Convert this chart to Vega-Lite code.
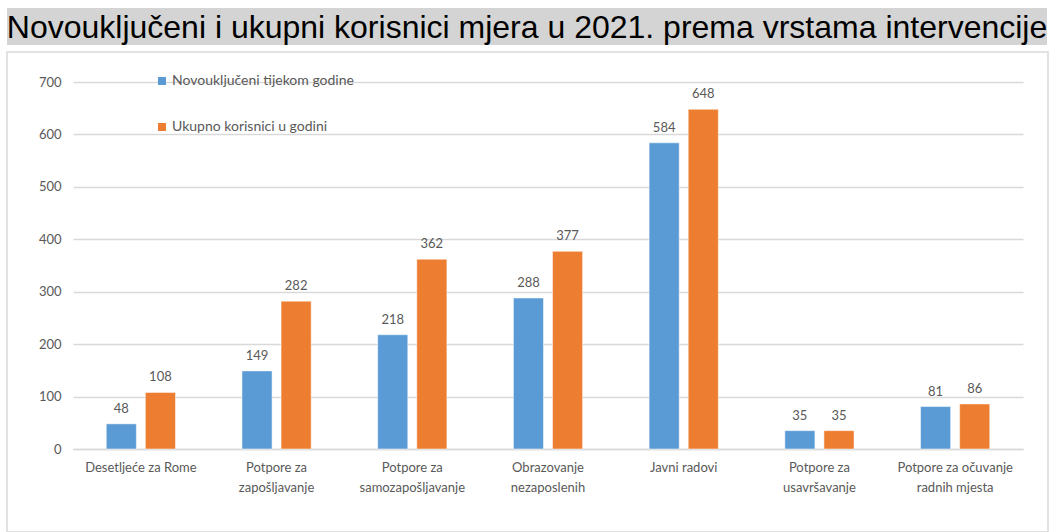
{
  "$schema": "https://vega.github.io/schema/vega-lite/v6.json",
  "background": "white",
  "padding": {"left": 6, "top": 8, "right": 0, "bottom": 0},
  "spacing": 6,
  "columns": 1,
  "align": "none",
  "config": {"view": {"stroke": null}},
  "resolve": {"legend": {"color": "independent"}},
  "concat": [
    {
      "width": 1040,
      "height": 37,
      "view": {"fill": "#d4d4d4", "stroke": null},
      "data": {"values": [{"title": "Novouključeni i ukupni korisnici mjera u 2021. prema vrstama intervencije"}]},
      "mark": {"type": "text", "font": "Liberation Sans", "fontSize": 32, "color": "#000000", "baseline": "middle", "align": "center", "dy": 1},
      "encoding": {"text": {"field": "title", "type": "nominal"}}
    },
    {
      "width": 1041,
      "height": 480,
      "view": {"stroke": "#d9d9d9", "strokeWidth": 1.5, "fill": "white"},
      "data": {"values": [
        {"mjera": "Desetljeće za Rome", "serija": "Novouključeni tijekom godine", "broj": 48},
        {"mjera": "Desetljeće za Rome", "serija": "Ukupno korisnici u godini", "broj": 108},
        {"mjera": "Potpore za zapošljavanje", "serija": "Novouključeni tijekom godine", "broj": 149},
        {"mjera": "Potpore za zapošljavanje", "serija": "Ukupno korisnici u godini", "broj": 282},
        {"mjera": "Potpore za samozapošljavanje", "serija": "Novouključeni tijekom godine", "broj": 218},
        {"mjera": "Potpore za samozapošljavanje", "serija": "Ukupno korisnici u godini", "broj": 362},
        {"mjera": "Obrazovanje nezaposlenih", "serija": "Novouključeni tijekom godine", "broj": 288},
        {"mjera": "Obrazovanje nezaposlenih", "serija": "Ukupno korisnici u godini", "broj": 377},
        {"mjera": "Javni radovi", "serija": "Novouključeni tijekom godine", "broj": 584},
        {"mjera": "Javni radovi", "serija": "Ukupno korisnici u godini", "broj": 648},
        {"mjera": "Potpore za usavršavanje", "serija": "Novouključeni tijekom godine", "broj": 35},
        {"mjera": "Potpore za usavršavanje", "serija": "Ukupno korisnici u godini", "broj": 35},
        {"mjera": "Potpore za očuvanje radnih mjesta", "serija": "Novouključeni tijekom godine", "broj": 81},
        {"mjera": "Potpore za očuvanje radnih mjesta", "serija": "Ukupno korisnici u godini", "broj": 86}
      ]},
      "encoding": {
        "x": {
          "field": "mjera", "type": "nominal", "sort": null, "title": null,
          "scale": {"range": [66, 1016], "paddingInner": 0.49, "paddingOuter": 0.245},
          "axis": {
            "offset": -83,
            "labelAngle": 0, "ticks": false, "tickSize": 0, "labelPadding": 12,
            "labelFont": "Lato", "labelFontSize": 13, "labelColor": "#595959",
            "labelLineHeight": 20, "domainColor": "#d9d9d9", "domainWidth": 1.5,
            "labelExpr": "datum.label == 'Potpore za očuvanje radnih mjesta' ? ['Potpore za očuvanje', 'radnih mjesta'] : datum.label == 'Obrazovanje nezaposlenih' ? ['Obrazovanje', 'nezaposlenih'] : indexof(datum.label, 'Potpore za ') == 0 ? ['Potpore za', substring(datum.label, 11)] : datum.label"
          }
        },
        "xOffset": {"field": "serija", "type": "nominal", "sort": ["Novouključeni tijekom godine", "Ukupno korisnici u godini"], "scale": {"paddingInner": 0.23, "paddingOuter": 0}},
        "y": {
          "field": "broj", "type": "quantitative", "title": null,
          "scale": {"domain": [0, 700], "nice": false, "range": [397, 30]},
          "axis": {
            "offset": -66,
            "values": [0, 100, 200, 300, 400, 500, 600, 700],
            "domain": false, "ticks": false, "tickSize": 0, "labelPadding": 12,
            "labelFont": "Lato", "labelFontSize": 13, "labelColor": "#595959",
            "gridColor": "#d9d9d9", "gridWidth": 1.5
          }
        }
      },
      "layer": [
        {
          "mark": {"type": "bar", "stroke": "white", "strokeWidth": 0.5},
          "encoding": {
            "color": {
              "field": "serija", "type": "nominal", "title": null,
              "scale": {"domain": ["Novouključeni tijekom godine", "Ukupno korisnici u godini"], "range": ["#5b9bd5", "#ed7d31"]},
              "legend": {
                "orient": "none", "legendX": 148, "legendY": 22, "direction": "vertical",
                "symbolType": "square", "symbolSize": 64, "symbolStrokeWidth": 0,
                "labelFont": "Lato", "labelFontSize": 14, "labelColor": "#595959",
                "labelOffset": 3, "rowPadding": 32, "padding": 0, "labelLimit": 400
              }
            }
          }
        },
        {
          "mark": {"type": "text", "baseline": "middle", "dy": -15, "font": "Lato", "fontSize": 13, "color": "#595959"},
          "encoding": {"text": {"field": "broj", "type": "quantitative"}}
        }
      ]
    }
  ]
}
